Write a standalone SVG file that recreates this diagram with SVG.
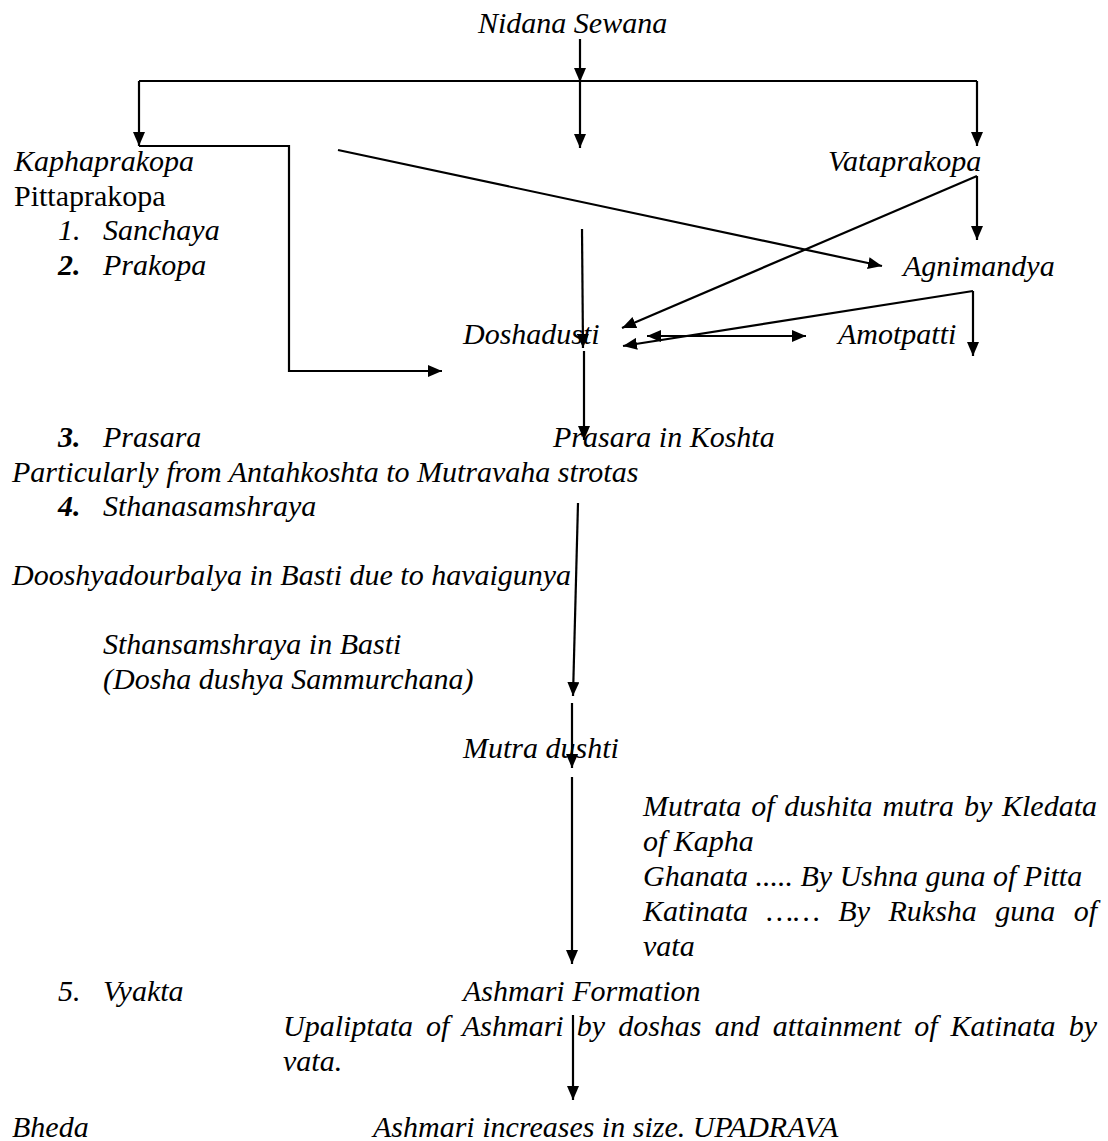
<svg xmlns="http://www.w3.org/2000/svg" width="1108" height="1141" viewBox="0 0 1108 1141">
<style>
text{font-family:"Liberation Serif","Times New Roman",serif;font-size:30px;fill:#000;font-style:italic}
.up{font-style:normal}
.b{font-weight:bold}
.c line,.c path{stroke:#000;stroke-width:2.2;fill:none}
</style>
<defs>
<marker id="ah" viewBox="0 0 14 12" refX="14" refY="6" markerWidth="14" markerHeight="12" markerUnits="userSpaceOnUse" orient="auto-start-reverse">
<path d="M0,0 L14,6 L0,12 z" fill="#000"/>
</marker>
</defs>
<rect width="1108" height="1141" fill="#fff"/>
<g id="connectors" class="c">
<line x1="580" y1="39" x2="580" y2="82" marker-end="url(#ah)"/>
<line x1="580" y1="81" x2="580" y2="148" marker-end="url(#ah)"/>
<line x1="139" y1="81" x2="977" y2="81"/>
<line x1="139" y1="81" x2="139" y2="146" marker-end="url(#ah)"/>
<line x1="977" y1="81" x2="977" y2="146" marker-end="url(#ah)"/>
<path d="M139,146 H289 V371 H442" marker-end="url(#ah)"/>
<line x1="338" y1="150" x2="882" y2="266" marker-end="url(#ah)"/>
<line x1="977" y1="176" x2="977" y2="240" marker-end="url(#ah)"/>
<line x1="977" y1="176" x2="622" y2="328" marker-end="url(#ah)"/>
<line x1="973" y1="291" x2="973" y2="356" marker-end="url(#ah)"/>
<line x1="973" y1="291" x2="623" y2="346" marker-end="url(#ah)"/>
<line x1="647" y1="336" x2="806" y2="336" marker-start="url(#ah)" marker-end="url(#ah)"/>
<line x1="582" y1="229" x2="583" y2="348" marker-end="url(#ah)"/>
<line x1="584" y1="351" x2="584" y2="440" marker-end="url(#ah)"/>
<line x1="578" y1="503" x2="573" y2="696" marker-end="url(#ah)"/>
<line x1="572" y1="703" x2="572" y2="768" marker-end="url(#ah)"/>
<line x1="572" y1="777" x2="572" y2="964" marker-end="url(#ah)"/>
<line x1="573" y1="1015" x2="573" y2="1100" marker-end="url(#ah)"/>
</g>
<g transform="translate(0,3)">
<g id="nidana"><text x="478" y="30">Nidana Sewana</text></g>
<g id="kaphaprakopa"><text x="14" y="168">Kaphaprakopa</text></g>
<g id="pittaprakopa"><text class="up" x="14" y="202.5">Pittaprakopa</text></g>
<g id="sanchaya"><text x="58" y="237">1.</text><text x="103" y="237">Sanchaya</text></g>
<g id="prakopa"><text class="b" x="58" y="271.5">2.</text><text x="103" y="271.5">Prakopa</text></g>
<g id="vataprakopa"><text x="828" y="168">Vataprakopa</text></g>
<g id="agnimandya"><text x="903" y="273">Agnimandya</text></g>
<g id="doshadusti"><text x="463" y="340.5">Doshadusti</text></g>
<g id="amotpatti"><text x="838" y="340.5">Amotpatti</text></g>
<g id="prasara"><text class="b" x="58" y="444">3.</text><text x="103" y="444">Prasara</text></g>
<g id="prasara-koshta"><text x="553" y="444">Prasara in Koshta</text></g>
<g id="particularly"><text x="12" y="478.5">Particularly from Antahkoshta to Mutravaha strotas</text></g>
<g id="sthanasamshraya"><text class="b" x="58" y="513">4.</text><text x="103" y="513">Sthanasamshraya</text></g>
<g id="dooshya"><text x="12" y="582">Dooshyadourbalya in Basti due to havaigunya</text></g>
<g id="sthansamshraya-basti"><text x="103" y="651">Sthansamshraya in Basti</text><text x="103" y="685.5">(Dosha dushya Sammurchana)</text></g>
<g id="mutra-dushti"><text x="463" y="755">Mutra dushti</text></g>
<g id="mutrata"><text x="643" y="813" word-spacing="2.3">Mutrata of dushita mutra by Kledata</text><text x="643" y="848">of Kapha</text><text x="643" y="883">Ghanata ..... By Ushna guna of Pitta</text><text x="643" y="918" word-spacing="11">Katinata …… By Ruksha guna of</text><text x="643" y="953">vata</text></g>
<g id="vyakta"><text x="58" y="998">5.</text><text x="103" y="998">Vyakta</text></g>
<g id="ashmari-formation"><text x="463" y="998">Ashmari Formation</text></g>
<g id="upaliptata"><text x="283" y="1033" word-spacing="5.6">Upaliptata of Ashmari by doshas and attainment of Katinata by</text><text x="283" y="1068">vata.</text></g>
<g id="bheda"><text x="12" y="1134">Bheda</text></g>
<g id="ashmari-increases"><text x="373" y="1134">Ashmari increases in size. UPADRAVA</text></g>
</g>
</svg>
